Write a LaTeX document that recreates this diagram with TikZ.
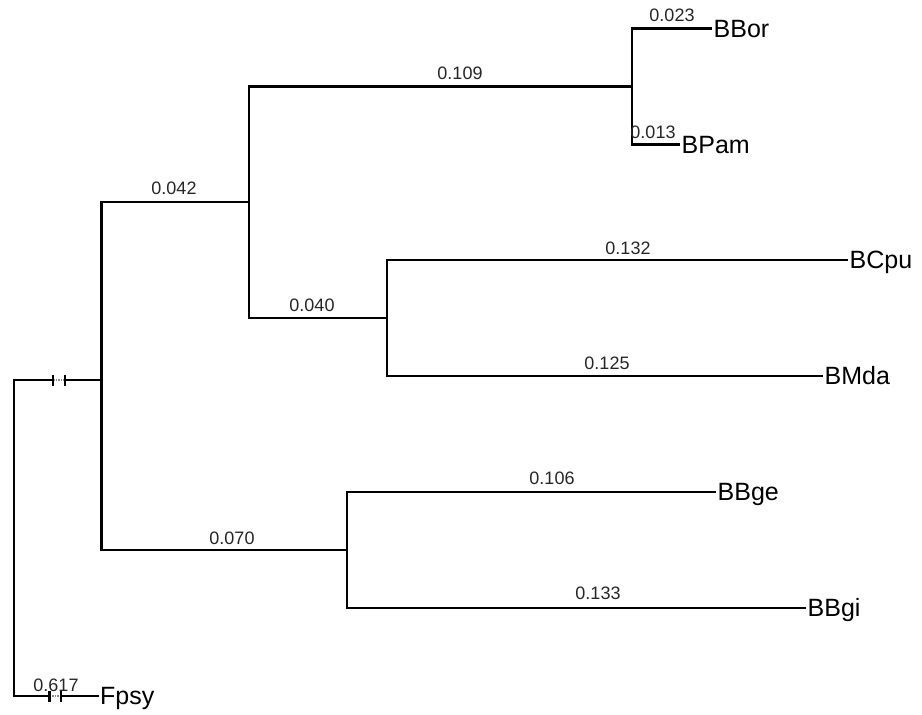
\documentclass[tikz,border=0pt]{standalone}
\usepackage{fontspec}
\setmainfont{Liberation Sans}
\begin{document}
\begin{tikzpicture}[x=1pt,y=-1pt,
  branch/.style={line width=2.8pt,black,line join=miter},
  gapline/.style={line width=1.2pt,black!45,dash pattern=on 1.5pt off 1pt},
  tick/.style={line width=2.2pt,black},
  leaf/.style={anchor=west,inner xsep=1.5pt,inner ysep=0pt,text height=17.5pt,text depth=0pt,font=\fontsize{25}{25}\selectfont},
  blen/.style={anchor=base,inner sep=0pt,font=\fontsize{18}{18}\selectfont,text=black!85}]
\useasboundingbox (0,0) rectangle (922,715);

% internal nodes of the tree
\coordinate (root) at (14,538);
\coordinate (n1) at (101.5,380);
\coordinate (n2) at (249,202);
\coordinate (n3) at (632,86.5);
\coordinate (n4) at (387,318);
\coordinate (n5) at (347,550);

% ends of the shortened (broken) branches
\coordinate (k1) at (53,380);
\coordinate (k2) at (65,380);
\coordinate (k3) at (49.5,696);
\coordinate (k4) at (61,696);

% tip labels
\node[leaf] (BBor) at (712,28.5) {BBor};
\node[leaf] (BPam) at (680,144.5) {BPam};
\node[leaf] (BCpu) at (848,260) {BCpu};
\node[leaf] (BMda) at (823,376) {BMda};
\node[leaf] (BBge) at (716,492) {BBge};
\node[leaf] (BBgi) at (806,608) {BBgi};
\node[leaf] (Fpsy) at (98.5,696) {Fpsy};

% branches
\draw[branch] (root) |- (k1);
\draw[gapline] (k1) -- (k2);
\draw[branch] (k2) -- (n1);
\draw[branch] (root) |- (k3);
\draw[gapline] (k3) -- (k4);
\draw[branch] (k4) -- (Fpsy.west);
\draw[branch] (n1) |- (n2);
\draw[branch] (n1) |- (n5);
\draw[branch] (n2) |- (n3);
\draw[branch] (n2) |- (n4);
\draw[branch] (n3) |- (BBor.west);
\draw[branch] (n3) |- (BPam.west);
\draw[branch] (n4) |- (BCpu.west);
\draw[branch] (n4) |- (BMda.west);
\draw[branch] (n5) |- (BBge.west);
\draw[branch] (n5) |- (BBgi.west);

% break marks
\foreach \k in {k1,k2,k3,k4}
  \draw[tick] ([yshift=-5.5pt]\k) -- ([yshift=5.5pt]\k);

% branch lengths
\node[blen] (l1) at (672,21.7) {0.023};
\node[blen] (l2) at (653,138) {0.013};
\node[blen] (l3) at (460,79.3) {0.109};
\node[blen] (l4) at (174,194.3) {0.042};
\node[blen] (l5) at (312,311.7) {0.040};
\node[blen] (l6) at (628,254) {0.132};
\node[blen] (l7) at (607,369) {0.125};
\node[blen] (l8) at (552,484) {0.106};
\node[blen] (l9) at (232,544) {0.070};
\node[blen] (l10) at (598,599) {0.133};
\node[blen] (l11) at (56,691.7) {0.617};
\end{tikzpicture}
\end{document}
